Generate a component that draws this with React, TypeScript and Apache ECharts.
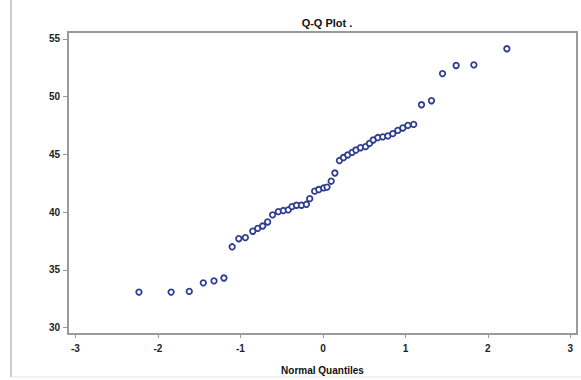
import React, { useEffect, useRef } from "react";
import * as echarts from "echarts";

const xQuantiles = [
  -2.23, -1.84, -1.62, -1.45, -1.32, -1.2, -1.1, -1.02, -0.94, -0.85, -0.79, -0.73, -0.67,
  -0.61, -0.54, -0.48, -0.42, -0.375, -0.32, -0.26, -0.2, -0.16, -0.1, -0.05, 0.01, 0.05,
  0.1, 0.145, 0.2, 0.25, 0.3, 0.355, 0.4, 0.456, 0.517, 0.565, 0.61, 0.666, 0.726, 0.787,
  0.847, 0.908, 0.969, 1.03, 1.1, 1.195, 1.316, 1.45, 1.615, 1.83, 2.23,
];
const yValues = [
  33.08, 33.08, 33.14, 33.88, 34.05, 34.3, 37.0, 37.7, 37.8, 38.35, 38.6, 38.8, 39.15,
  39.77, 40.05, 40.14, 40.2, 40.48, 40.6, 40.6, 40.68, 41.17, 41.82, 41.96, 42.1, 42.17,
  42.68, 43.39, 44.47, 44.73, 44.95, 45.18, 45.38, 45.58, 45.67, 45.95, 46.25, 46.46, 46.52,
  46.6, 46.8, 47.08, 47.29, 47.51, 47.6, 49.3, 49.65, 52.0, 52.7, 52.75, 54.15,
];
const xTicks = [-3, -2, -1, 0, 1, 2, 3];
const yTicks = [30, 35, 40, 45, 50, 55];
const titleText = "Q-Q Plot .";
const xAxisName = "Normal Quantiles";

export default function App() {
  const ref = useRef<HTMLDivElement>(null);
  useEffect(() => {
    document.body.style.margin = "0";
    const chart = echarts.init(ref.current!, null, { renderer: "svg" });
    const data = xQuantiles.map((x, i) => [x, yValues[i]]);
    const font = "Liberation Sans, Arial, sans-serif";
    chart.setOption({
      animation: false,
      backgroundColor: "#ffffff",
      title: {
        text: titleText,
        left: 322,
        textAlign: "center",
        top: 12,
        textStyle: { fontSize: 11, fontWeight: "bold", color: "#111", fontFamily: font },
      },
      grid: {
        left: 68,
        right: 4,
        top: 32,
        bottom: 43,
        show: true,
        borderColor: "#9a9a9a",
        borderWidth: 2,
        backgroundColor: "#ffffff",
      },
      xAxis: {
        type: "value",
        min: -3.09,
        max: 3.08,
        name: xAxisName,
        nameLocation: "middle",
        nameGap: 31,
        nameTextStyle: { fontSize: 10, fontWeight: "bold", color: "#111", fontFamily: font },
        axisLine: { show: true, onZero: false, lineStyle: { color: "#9a9a9a", width: 2 } },
        axisTick: { show: true, length: 4, customValues: xTicks, lineStyle: { color: "#9a9a9a" } },
        axisLabel: {
          customValues: xTicks,
          margin: 9,
          fontSize: 10,
          fontWeight: "bold",
          color: "#222",
          fontFamily: font,
        },
        splitLine: { show: false },
      },
      yAxis: {
        type: "value",
        min: 29.45,
        max: 55.6,
        axisLine: { show: true, onZero: false, lineStyle: { color: "#9a9a9a", width: 2 } },
        axisTick: { show: true, length: 5, customValues: yTicks, lineStyle: { color: "#9a9a9a" } },
        axisLabel: {
          customValues: yTicks,
          margin: 8,
          fontSize: 10,
          fontWeight: "bold",
          color: "#222",
          fontFamily: font,
        },
        splitLine: { show: false },
      },
      graphic: [
        { type: "line", shape: { x1: 11, y1: 0, x2: 11, y2: 377 }, style: { stroke: "#cfcfcf", lineWidth: 2 } },
        { type: "line", shape: { x1: 11, y1: 377, x2: 581, y2: 377 }, style: { stroke: "#e6e6e6", lineWidth: 1 } },
      ],
      series: [
        {
          type: "scatter",
          data,
          symbol: "circle",
          symbolSize: 5.5,
          z: 5,
          itemStyle: { color: "#ffffff", borderColor: "#2e3d8f", borderWidth: 1.8, opacity: 1 },
        },
      ],
    });
    return () => chart.dispose();
  }, []);
  return <div ref={ref} style={{ width: 581, height: 380 }} />;
}
